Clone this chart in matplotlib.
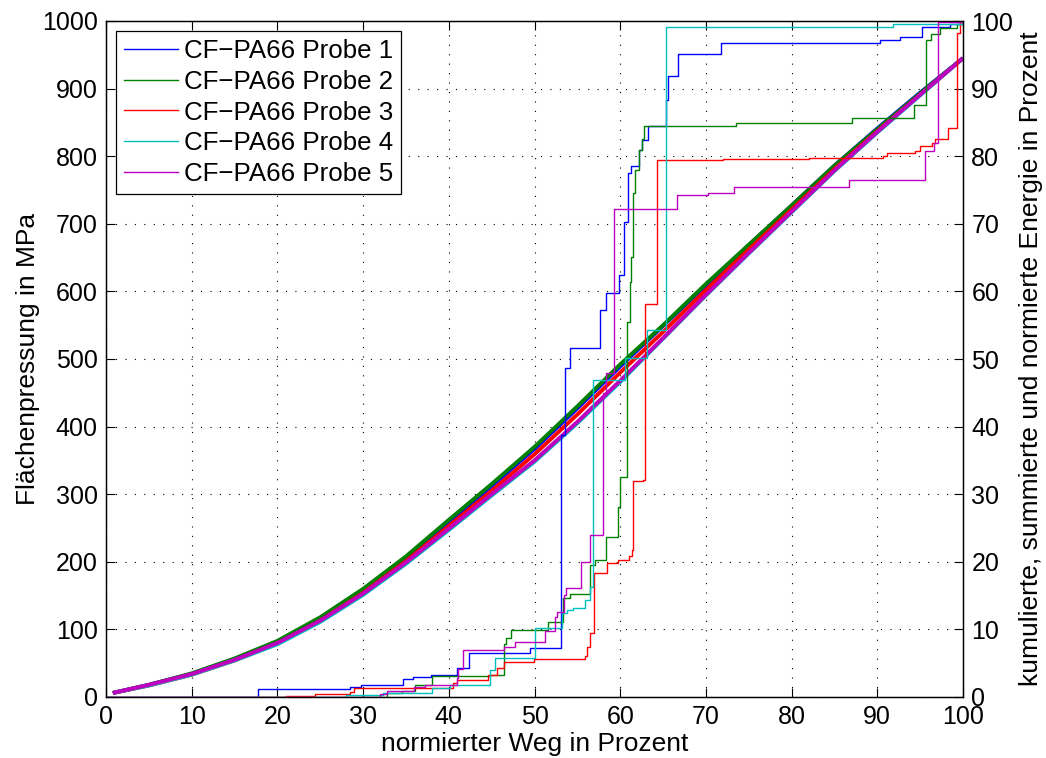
import matplotlib
matplotlib.use("Agg")
import matplotlib.pyplot as plt

plt.rcParams['font.family'] = ['Liberation Sans', 'DejaVu Sans']

# ---------------- data ----------------
labels = ["CF\u2212PA66 Probe 1", "CF\u2212PA66 Probe 2", "CF\u2212PA66 Probe 3",
          "CF\u2212PA66 Probe 4", "CF\u2212PA66 Probe 5"]
colors = [(0, 0, 1), (0, 0.5, 0), (1, 0, 0), (0, 0.75, 0.75), (0.75, 0, 0.75)]

# pressure curves (left axis, MPa)
p_x = [0.8, 5, 10, 15, 20, 25, 30, 35, 40, 45, 50, 55, 60, 65, 70, 75, 80, 85, 90, 95, 100]
p1 = [6, 18, 34, 56, 82, 116, 158, 206, 259, 312, 367, 427, 489, 549, 609, 668, 727, 786, 841, 894, 945]
p2 = [6, 18, 35, 57, 83, 118, 160, 208, 262, 315, 370, 430, 492, 550, 611, 669, 727, 786, 840, 893, 945]
p3 = [6, 17, 33, 54, 79, 113, 154, 201, 253, 305, 359, 418, 480, 540, 602, 662, 721, 781, 837, 891, 945]
p4 = [6, 17, 33, 54, 78, 111, 151, 197, 247, 298, 348, 405, 466, 530, 594, 656, 717, 778, 835, 890, 945]
p5 = [6, 18, 34, 55, 80, 113, 153, 199, 249, 300, 350, 407, 468, 531, 595, 657, 718, 779, 836, 891, 945]

# cumulative energy step curves (right axis, %)
e1_x = [0, 17.7, 28.5, 29.7, 34.7, 35.8, 37.9, 40.9, 42.3, 49.5, 53.1, 53.6, 54.1, 57.7, 58.3,
        59.9, 60.4, 60.9, 61.3, 62.2, 62.5, 63.3, 65.3, 65.6, 66.8, 71.8, 90.3, 92.6, 95.2, 98.5, 100]
e1_v = [0, 1.2, 1.5, 1.8, 2.6, 2.9, 3.2, 4.3, 6.5, 7.3, 38.8, 48.6, 51.6, 57.2, 59.7,
        62.4, 70.3, 77.5, 78.5, 80.9, 82.4, 84.5, 88.3, 91.8, 95.1, 96.7, 97.2, 97.7, 99.1, 99.5, 100]

e2_x = [0, 32.8, 34.5, 36.0, 38.0, 44.8, 46.4, 46.7, 47.3, 51.6, 53.3, 54.1, 56.5, 57.1, 58.4,
        59.7, 60.0, 60.8, 61.2, 61.3, 61.5, 61.7, 62.2, 62.5, 62.8, 73.5, 87.0, 94.3, 95.7, 96.3,
        97.3, 99.3, 100]
e2_v = [0, 0.6, 0.9, 1.8, 3.1, 3.3, 7.9, 8.7, 9.9, 11.1, 14.6, 15.3, 19.5, 20.3, 23.7,
        28.1, 32.6, 55.4, 61.4, 65.1, 74.5, 78.0, 80.9, 82.6, 84.4, 84.9, 85.6, 87.6, 97.2, 98.1,
        99.0, 99.6, 100]

e3_x = [0, 21.0, 24.4, 28.5, 28.9, 32.8, 40.5, 40.9, 44.6, 45.6, 46.4, 49.9, 55.9, 56.1, 56.5,
        56.9, 58.5, 59.8, 61.0, 61.4, 61.5, 62.7, 62.9, 64.3, 72.0, 82.0, 90.7, 91.1, 94.4, 95.0,
        96.4, 96.7, 98.3, 99.3, 99.6, 100]
e3_v = [0, 0.2, 0.5, 0.8, 1.3, 1.4, 2.0, 2.5, 3.3, 4.3, 5.2, 5.6, 6.0, 7.4, 9.4,
        18.3, 19.8, 20.3, 20.8, 21.7, 31.9, 32.1, 58.2, 79.4, 79.6, 79.8, 80.0, 80.4, 80.7, 81.5,
        81.9, 82.6, 84.1, 98.2, 100, 100]

e4_x = [0, 28.0, 32.3, 38.0, 40.1, 44.8, 45.4, 50.1, 53.2, 53.8, 54.5, 55.9, 56.5, 56.8,
        60.6, 63.1, 65.3, 91.8, 100]
e4_v = [0, 0.3, 0.6, 1.3, 1.8, 4.0, 5.8, 10.2, 12.4, 12.9, 13.2, 14.3, 16.3, 46.9,
        50.1, 54.3, 99.1, 99.5, 100]

e5_x = [0, 32.0, 32.8, 35.9, 37.2, 40.9, 41.1, 41.6, 46.4, 47.7, 51.2, 52.4, 52.6, 53.4, 53.7,
        55.4, 56.5, 58.0, 58.4, 59.3, 66.6, 70.3, 73.3, 86.7, 95.6, 96.6, 97.1, 100]
e5_v = [0, 0.5, 0.9, 1.5, 1.8, 2.8, 4.2, 7.0, 7.4, 8.2, 9.7, 11.9, 12.6, 15.1, 16.1,
        20.0, 24.0, 44.9, 48.0, 72.2, 74.3, 74.5, 75.5, 76.5, 80.7, 82.0, 99.8, 100]

x_ticks = list(range(0, 101, 10))
yl_ticks = list(range(0, 1001, 100))
yr_ticks = list(range(0, 101, 10))

# ---------------- plot ----------------
FS = 18
LFS = 19
fig = plt.figure(figsize=(10.46, 7.58), dpi=100)
ax = fig.add_axes([106 / 1046, 1 - 697 / 758, (963 - 106) / 1046, (697 - 21) / 758])
ax2 = ax.twinx()

pressures = [p1, p2, p3, p4, p5]
for p, c in zip(pressures, colors):
    ax.plot(p_x, p, color=c, lw=2.8, solid_capstyle='butt')

energies = [(e1_x, e1_v), (e2_x, e2_v), (e3_x, e3_v), (e4_x, e4_v), (e5_x, e5_v)]
handles = []
for (ex, ev), c, lab in zip(energies, colors, labels):
    h, = ax2.plot(ex, ev, color=c, lw=1.0, drawstyle='steps-post', label=lab)
    handles.append(h)

ax.set_xlim(0, 100)
ax.set_ylim(0, 1000)
ax2.set_ylim(0, 100)
ax.set_xticks(x_ticks)
ax.set_yticks(yl_ticks)
ax2.set_yticks(yr_ticks)

grid_ls = (0, (1, 7.5))
ax.grid(True, color='black', linestyle=grid_ls, linewidth=0.8)

for a in (ax, ax2):
    a.tick_params(direction='in', length=6.3, width=0.8, labelsize=FS, pad=6, colors='black')
    for s in a.spines.values():
        s.set_linewidth(0.9)
        s.set_color('black')
ax.tick_params(axis='x', top=True)
ax2.tick_params(axis='y', right=True, left=False)
ax.tick_params(axis='y', right=False)

ax.set_xlabel("normierter Weg in Prozent", fontsize=LFS, labelpad=2)
ax.set_ylabel("Flächenpressung in MPa", fontsize=LFS, labelpad=1)
ax2.set_ylabel("kumulierte, summierte und normierte Energie in Prozent", fontsize=LFS, labelpad=4)

leg = ax2.legend(handles=handles, loc='upper left', fontsize=18.6, frameon=True, fancybox=False,
                 edgecolor='black', framealpha=1, borderaxespad=0.38, handlelength=2.1,
                 handletextpad=0.25, labelspacing=0.27, borderpad=0.3)
leg.get_frame().set_linewidth(0.9)

fig.savefig("out.png", dpi=100)
